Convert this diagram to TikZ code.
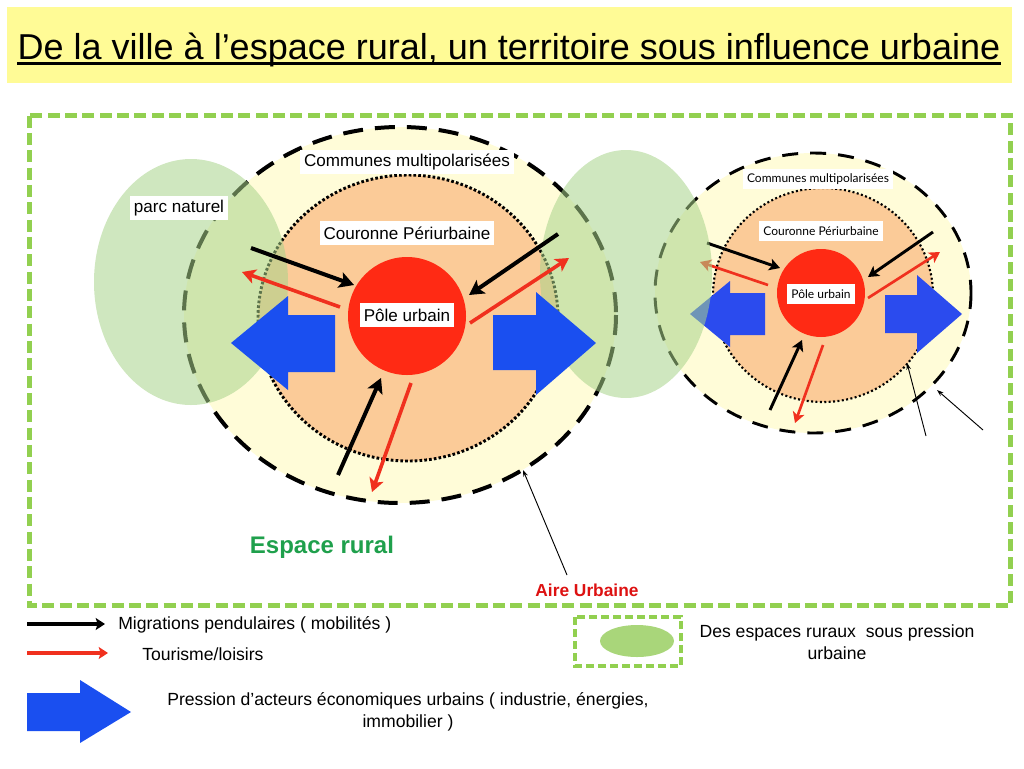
\documentclass[tikz,border=0pt]{standalone}
\usepackage{fontspec}
\setmainfont{Liberation Sans}
\newfontfamily\gillf{Lato}
\usetikzlibrary{arrows.meta}
\definecolor{titleY}{HTML}{FFFB96}
\definecolor{greenD}{HTML}{92D050}
\definecolor{yelL}{HTML}{FFFCD8}
\definecolor{orangeC}{HTML}{FBCB98}
\definecolor{redC}{HTML}{FF2A14}
\definecolor{redA}{HTML}{F0301E}
\definecolor{blueL}{HTML}{1A4FF0}
\definecolor{blueR}{HTML}{2B4BEE}
\definecolor{greenE}{HTML}{A8D38A}
\definecolor{greenLg}{HTML}{A9D67A}
\definecolor{ruralG}{HTML}{1FA04C}
\definecolor{aireR}{HTML}{DD1111}
\begin{document}
\begin{tikzpicture}[x=0.75pt,y=-0.75pt,
  blkarrow/.style={draw=black,line width=3pt,-{Stealth[length=11pt,width=12pt,inset=2.5pt]}},
  redarrow/.style={draw=redA,line width=2.7pt,-{Stealth[length=10pt,width=11pt,inset=2.5pt]}},
  smallblk/.style={draw=black,line width=2.2pt,-{Stealth[length=8pt,width=9pt,inset=2pt]}},
  smallred/.style={draw=redA,line width=2pt,-{Stealth[length=8pt,width=9pt,inset=2pt]}},
  thinptr/.style={draw=black,line width=0.7pt,-{Stealth[length=5pt,width=3.5pt]}},
  lgblk/.style={draw=black,line width=3pt,-{Stealth[length=7pt,width=9pt,inset=1.5pt]}},
  lgred/.style={draw=redA,line width=3pt,-{Stealth[length=7pt,width=9pt,inset=1.5pt]}},
  lbl/.style={fill=white,inner xsep=3pt,inner ysep=0pt,minimum height=18.5pt,font=\fontsize{12.8}{14}\selectfont},
  lblsmall/.style={fill=white,inner xsep=3pt,inner ysep=0pt,minimum height=14.5pt,font=\gillf\fontsize{9}{11}\selectfont},
  dashL/.style={draw=black,line width=3pt,dash pattern=on 15pt off 9pt},
  dotL/.style={draw=black,line width=2.2pt,dash pattern=on 2pt off 1.6pt},
  dashR/.style={draw=black,line width=2.2pt,dash pattern=on 12pt off 9pt},
  dotR/.style={draw=black,line width=1.6pt,dash pattern=on 1.5pt off 1.8pt},
  legtxt/.style={font=\fontsize{13.2}{16.5}\selectfont,inner sep=0pt}
]
\useasboundingbox (0,0) rectangle (1024,768);

% ---------- title ----------
\fill[titleY] (7,7) rectangle (1012,83);
\node[font=\fontsize{27}{32}\selectfont,inner sep=0pt,anchor=base] (title) at (509,59)
  {De la ville à l’espace rural, un territoire sous influence urbaine};
\draw[line width=2pt] ([yshift=-3.6pt]title.base west) -- ([yshift=-3.6pt]title.base east);

% ---------- frame ----------
\draw[greenD,line width=3.6pt,dash pattern=on 9pt off 4pt] (29.5,115.5) rectangle (1010.5,605.5);

% ---------- right diagram ----------
\fill[yelL] (813,293) ellipse [x radius=158, y radius=140];
\fill[orangeC] (823,295) ellipse [x radius=110, y radius=107];
\draw[dotR] (823,295) ellipse [x radius=110, y radius=107];
\draw[dashR] (813,293) ellipse [x radius=158, y radius=140];
\fill[blueR] (765,293) -- (730,293) -- (730,281) -- (690,314) -- (730,347) -- (730,335) -- (765,335) -- cycle;
\fill[blueR] (885,295) -- (917,295) -- (917,275) -- (962,314) -- (917,353) -- (917,333) -- (885,333) -- cycle;
\fill[redC] (821,293) circle [radius=44];
\coordinate (rb1s) at (707,243); \coordinate (rb1e) at (780,268);
\coordinate (rb2s) at (933,232); \coordinate (rb2e) at (868,277);
\coordinate (rb3s) at (770,410); \coordinate (rb3e) at (802,340);
\coordinate (rr1s) at (768,285); \coordinate (rr1e) at (700,262);
\coordinate (rr2s) at (868,298); \coordinate (rr2e) at (940,252);
\coordinate (rr3s) at (823,345); \coordinate (rr3e) at (795,423);
\draw[smallblk] (rb1s) -- (rb1e);
\draw[smallblk] (rb2s) -- (rb2e);
\draw[smallblk] (rb3s) -- (rb3e);
\draw[smallred] (rr1s) -- (rr1e);
\draw[smallred] (rr2s) -- (rr2e);
\draw[smallred] (rr3s) -- (rr3e);
\node[lblsmall] (rcomm) at (818,179) {Communes multipolarisées};
\node[lblsmall] (rcour) at (821,231) {Couronne Périurbaine};
\node[lblsmall] (rpole) at (821,294) {Pôle urbain};
\coordinate (rt1s) at (926,436); \coordinate (rt1e) at (907,363);
\coordinate (rt2s) at (983,430); \coordinate (rt2e) at (937,390);
\draw[thinptr] (rt1s) -- (rt1e);
\draw[thinptr] (rt2s) -- (rt2e);

% ---------- left diagram (background) ----------
\fill[yelL] (400,315) ellipse [x radius=216, y radius=188];
\fill[orangeC] (408,318) ellipse [x radius=150, y radius=143];
\draw[dotL] (408,318) ellipse [x radius=150, y radius=143];
\draw[dashL] (400,315) ellipse [x radius=216, y radius=188];

% ---------- green (semi transparent) rural spaces ----------
\fill[greenE,fill opacity=0.55] (191,282) ellipse [x radius=97, y radius=123];
\fill[greenE,fill opacity=0.55] (626,274) ellipse [x radius=86, y radius=124];

% ---------- left diagram (foreground) ----------
\fill[blueL] (335,315) -- (288,315) -- (288,296) -- (231,343) -- (288,390) -- (288,372) -- (335,372) -- cycle;
\fill[blueL] (493,315) -- (536,315) -- (536,292) -- (596,343) -- (536,395) -- (536,370) -- (493,370) -- cycle;
\fill[redC] (407,316) circle [radius=59];
\coordinate (lb1s) at (251,248); \coordinate (lb1e) at (354,285);
\coordinate (lb2s) at (558,234); \coordinate (lb2e) at (469,295);
\coordinate (lb3s) at (338,475); \coordinate (lb3e) at (381,378);
\coordinate (lr1s) at (340,307); \coordinate (lr1e) at (242,272);
\coordinate (lr2s) at (470,323); \coordinate (lr2e) at (569,258);
\coordinate (lr3s) at (411,383); \coordinate (lr3e) at (372,492);
\draw[blkarrow] (lb1s) -- (lb1e);
\draw[blkarrow] (lb2s) -- (lb2e);
\draw[blkarrow] (lb3s) -- (lb3e);
\draw[redarrow] (lr1s) -- (lr1e);
\draw[redarrow] (lr2s) -- (lr2e);
\draw[redarrow] (lr3s) -- (lr3e);
\node[lbl] (lcomm) at (407,162) {Communes multipolarisées};
\node[lbl] (lcour) at (407,233) {Couronne Périurbaine};
\node[lbl] (lpole) at (407,315) {Pôle urbain};
\node[lbl] (parc) at (179,208) {parc naturel};

% ---------- espace rural / aire urbaine ----------
\node[font=\bfseries\fontsize{18}{20}\selectfont,text=ruralG,inner sep=0pt] (rural) at (322,547) {Espace rural};
\node[font=\bfseries\fontsize{13}{15}\selectfont,text=aireR,inner sep=1pt] (aire) at (587,590) {Aire Urbaine};
\coordinate (airetip) at (523,470);
\coordinate (airefoot) at (567,575);
\draw[thinptr] (airefoot) -- (airetip);

% ---------- legend ----------
\coordinate (lg1s) at (27,624); \coordinate (lg1e) at (105,624);
\coordinate (lg2s) at (27,653); \coordinate (lg2e) at (108,653);
\draw[lgblk] (lg1s) -- (lg1e);
\draw[lgred] (lg2s) -- (lg2e);
\node[legtxt,anchor=west] (lgmig) at (118,625) {Migrations pendulaires ( mobilités )};
\node[legtxt,anchor=west] (lgtour) at (142,654) {Tourisme/loisirs};
\fill[blueL] (27,693) -- (80,693) -- (80,680) -- (131,712) -- (80,743) -- (80,731) -- (27,731) -- cycle;
\node[legtxt,align=center] (lgpress) at (408,712) {Pression d’acteurs économiques urbains ( industrie, énergies,\\ immobilier )};
\draw[greenD,line width=2.6pt,dash pattern=on 6pt off 3pt] (575,617) rectangle (681,666);
\fill[greenLg] (637,641) ellipse [x radius=37, y radius=16];
\node[legtxt,align=center] (lgesp) at (837,642) {Des espaces ruraux\ \ sous pression\\urbaine};
\end{tikzpicture}
\end{document}
